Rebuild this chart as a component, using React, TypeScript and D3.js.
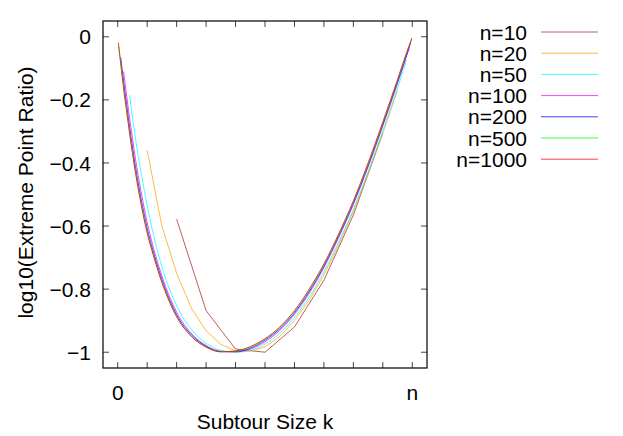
import React, { useEffect, useRef } from "react";
import * as d3 from "d3";

// k/n positions and log10(ratio) values
const kFrac10 = [0.2, 0.3, 0.4, 0.5, 0.6, 0.7, 0.8, 0.9];
const ratio10 = [-0.578, -0.868, -0.99, -1.0, -0.92, -0.772, -0.565, -0.305];

const kFrac20 = [0.1, 0.15, 0.2, 0.25, 0.3, 0.35, 0.4, 0.45, 0.5, 0.55, 0.6, 0.65, 0.7, 0.75, 0.8, 0.85, 0.9, 0.95];
const ratio20 = [-0.36, -0.6, -0.75, -0.86, -0.932, -0.975, -0.996, -0.997, -0.983, -0.95, -0.9, -0.835, -0.755, -0.66, -0.553, -0.435, -0.305, -0.17];

const kFrac50 = [0.04, 0.06, 0.08, 0.1, 0.12, 0.14, 0.16, 0.18, 0.2, 0.25, 0.3, 0.35, 0.4, 0.45, 0.5, 0.55, 0.6, 0.65, 0.7, 0.75, 0.8, 0.85, 0.9, 0.95, 0.98];
const ratio50 = [-0.184, -0.32, -0.435, -0.535, -0.622, -0.696, -0.759, -0.81, -0.853, -0.928, -0.972, -0.994, -1.0, -0.994, -0.974, -0.94, -0.89, -0.825, -0.745, -0.651, -0.547, -0.428, -0.298, -0.163, -0.075];

const kFrac100 = [0.02, 0.03, 0.04, 0.05, 0.06, 0.08, 0.1, 0.12, 0.14, 0.16, 0.18, 0.2, 0.25, 0.3, 0.35, 0.4, 0.45, 0.5, 0.55, 0.6, 0.65, 0.7, 0.75, 0.8, 0.85, 0.9, 0.95, 0.99];
const ratio100 = [-0.11, -0.185, -0.255, -0.322, -0.385, -0.495, -0.588, -0.664, -0.729, -0.785, -0.833, -0.873, -0.94, -0.979, -0.997, -0.999, -0.99, -0.967, -0.931, -0.88, -0.813, -0.732, -0.637, -0.532, -0.413, -0.283, -0.148, -0.035];

const kFrac200 = [0.01, 0.02, 0.03, 0.04, 0.05, 0.06, 0.08, 0.1, 0.12, 0.14, 0.16, 0.18, 0.2, 0.25, 0.3, 0.35, 0.4, 0.45, 0.5, 0.55, 0.6, 0.65, 0.7, 0.75, 0.8, 0.85, 0.9, 0.95, 0.98, 0.995];
const ratio200 = [-0.065, -0.142, -0.214, -0.284, -0.35, -0.411, -0.517, -0.607, -0.679, -0.741, -0.796, -0.842, -0.881, -0.945, -0.981, -0.998, -0.998, -0.987, -0.962, -0.926, -0.875, -0.808, -0.727, -0.632, -0.527, -0.408, -0.278, -0.143, -0.06, -0.018];

const kFrac500 = [0.004, 0.01, 0.02, 0.03, 0.04, 0.05, 0.06, 0.08, 0.1, 0.12, 0.14, 0.16, 0.18, 0.2, 0.25, 0.3, 0.35, 0.4, 0.45, 0.5, 0.55, 0.6, 0.65, 0.7, 0.75, 0.8, 0.85, 0.9, 0.95, 0.98, 0.998];
const ratio500 = [-0.03, -0.08, -0.16, -0.23, -0.3, -0.365, -0.425, -0.53, -0.618, -0.687, -0.749, -0.802, -0.848, -0.886, -0.949, -0.983, -0.998, -0.997, -0.984, -0.959, -0.922, -0.871, -0.803, -0.723, -0.628, -0.523, -0.403, -0.273, -0.138, -0.055, -0.006];

const kFrac1000 = [0.002, 0.005, 0.01, 0.02, 0.03, 0.04, 0.05, 0.06, 0.08, 0.1, 0.12, 0.14, 0.16, 0.18, 0.2, 0.25, 0.3, 0.35, 0.4, 0.45, 0.5, 0.55, 0.6, 0.65, 0.7, 0.75, 0.8, 0.85, 0.9, 0.95, 0.98, 0.999];
const ratio1000 = [-0.018, -0.045, -0.085, -0.165, -0.235, -0.305, -0.37, -0.43, -0.535, -0.622, -0.69, -0.752, -0.805, -0.85, -0.888, -0.95, -0.984, -0.999, -0.996, -0.982, -0.957, -0.92, -0.868, -0.8, -0.72, -0.625, -0.52, -0.4, -0.27, -0.135, -0.052, -0.004];

const labels = ["n=10", "n=20", "n=50", "n=100", "n=200", "n=500", "n=1000"];
const colors = ["#a52a2a", "#ffa500", "#00ffff", "#ff00ff", "#0000ff", "#00ff00", "#ff0000"];
const xs = [kFrac10, kFrac20, kFrac50, kFrac100, kFrac200, kFrac500, kFrac1000];
const ys = [ratio10, ratio20, ratio50, ratio100, ratio200, ratio500, ratio1000];

const xTicks = [0, 0.1, 0.2, 0.3, 0.4, 0.5, 0.6, 0.7, 0.8, 0.9, 1];
const xTickLabels = { 0: "0", 1: "n" };
const yTicks = [0, -0.2, -0.4, -0.6, -0.8, -1];

const FONT = "'Liberation Sans', Arial, sans-serif";
const FS = "21px";

const App = () => {
  const svgRef = useRef(null);

  useEffect(() => {
    const svg = d3.select(svgRef.current);
    svg.selectAll("*").remove();

    const left = 103, right = 427, top = 21, bottom = 368;
    const x = d3.scaleLinear().domain([-0.05, 1.05]).range([left, right]);
    const y = d3.scaleLinear().domain([-1.05, 0.05]).range([bottom, top]);
    const tick = 6;

    const axes = svg.append("g");
    // x ticks, bottom and top (mirrored)
    xTicks.forEach((t) => {
      axes.append("line").attr("x1", x(t)).attr("x2", x(t)).attr("y1", bottom).attr("y2", bottom - tick)
        .attr("stroke", "#444").attr("stroke-width", 1);
      axes.append("line").attr("x1", x(t)).attr("x2", x(t)).attr("y1", top).attr("y2", top + tick)
        .attr("stroke", "#444").attr("stroke-width", 1);
      if (xTickLabels[t] !== undefined) {
        axes.append("text").attr("x", x(t)).attr("y", 400)
          .attr("text-anchor", "middle").style("font-family", FONT).style("font-size", FS)
          .text(xTickLabels[t]);
      }
    });
    yTicks.forEach((t) => {
      axes.append("line").attr("x1", left).attr("x2", left + tick).attr("y1", y(t)).attr("y2", y(t))
        .attr("stroke", "#444").attr("stroke-width", 1);
      axes.append("line").attr("x1", right).attr("x2", right - tick).attr("y1", y(t)).attr("y2", y(t))
        .attr("stroke", "#444").attr("stroke-width", 1);
      axes.append("text").attr("x", 91).attr("y", y(t)).attr("dy", "0.36em")
        .attr("text-anchor", "end").style("font-family", FONT).style("font-size", FS)
        .text(d3.format("")(t));
    });

    const line = d3.line()
      .x((d) => x(d[0]))
      .y((d) => y(d[1]));

    const plot = svg.append("g");
    ys.forEach((vals, i) => {
      const pts = vals.map((v, j) => [xs[i][j], v]);
      plot.append("path")
        .attr("d", line.curve(i < 2 ? d3.curveLinear : d3.curveMonotoneX)(pts))
        .attr("fill", "none")
        .attr("stroke", colors[i])
        .attr("stroke-width", 1)
        .attr("stroke-opacity", 0.75);
    });

    // frame
    svg.append("rect")
      .attr("x", left).attr("y", top).attr("width", right - left).attr("height", bottom - top)
      .attr("fill", "none").attr("stroke", "#000").attr("stroke-width", 1.2);

    // axis titles
    svg.append("text").attr("x", (left + right) / 2).attr("y", 429)
      .attr("text-anchor", "middle").style("font-family", FONT).style("font-size", FS)
      .text("Subtour Size k");
    svg.append("text").attr("transform", `translate(33, ${(top + bottom) / 2 - 2}) rotate(-90)`)
      .attr("text-anchor", "middle").style("font-family", FONT).style("font-size", FS)
      .text("log10(Extreme Point Ratio)");

    // legend
    const legend = svg.append("g");
    labels.forEach((lab, i) => {
      const ly = 32 + i * 21.2;
      legend.append("text").attr("x", 527).attr("y", ly).attr("dy", "0.36em")
        .attr("text-anchor", "end").style("font-family", FONT).style("font-size", FS)
        .text(lab);
      legend.append("line").attr("x1", 541).attr("x2", 598).attr("y1", ly).attr("y2", ly)
        .attr("stroke", colors[i]).attr("stroke-width", 1).attr("stroke-opacity", 0.75);
    });
  }, []);

  return (
    <div style={{ position: "absolute", left: 0, top: 0 }}>
      <svg ref={svgRef} width={623} height={436} style={{ background: "#fff", display: "block" }}></svg>
    </div>
  );
};

export default App;
